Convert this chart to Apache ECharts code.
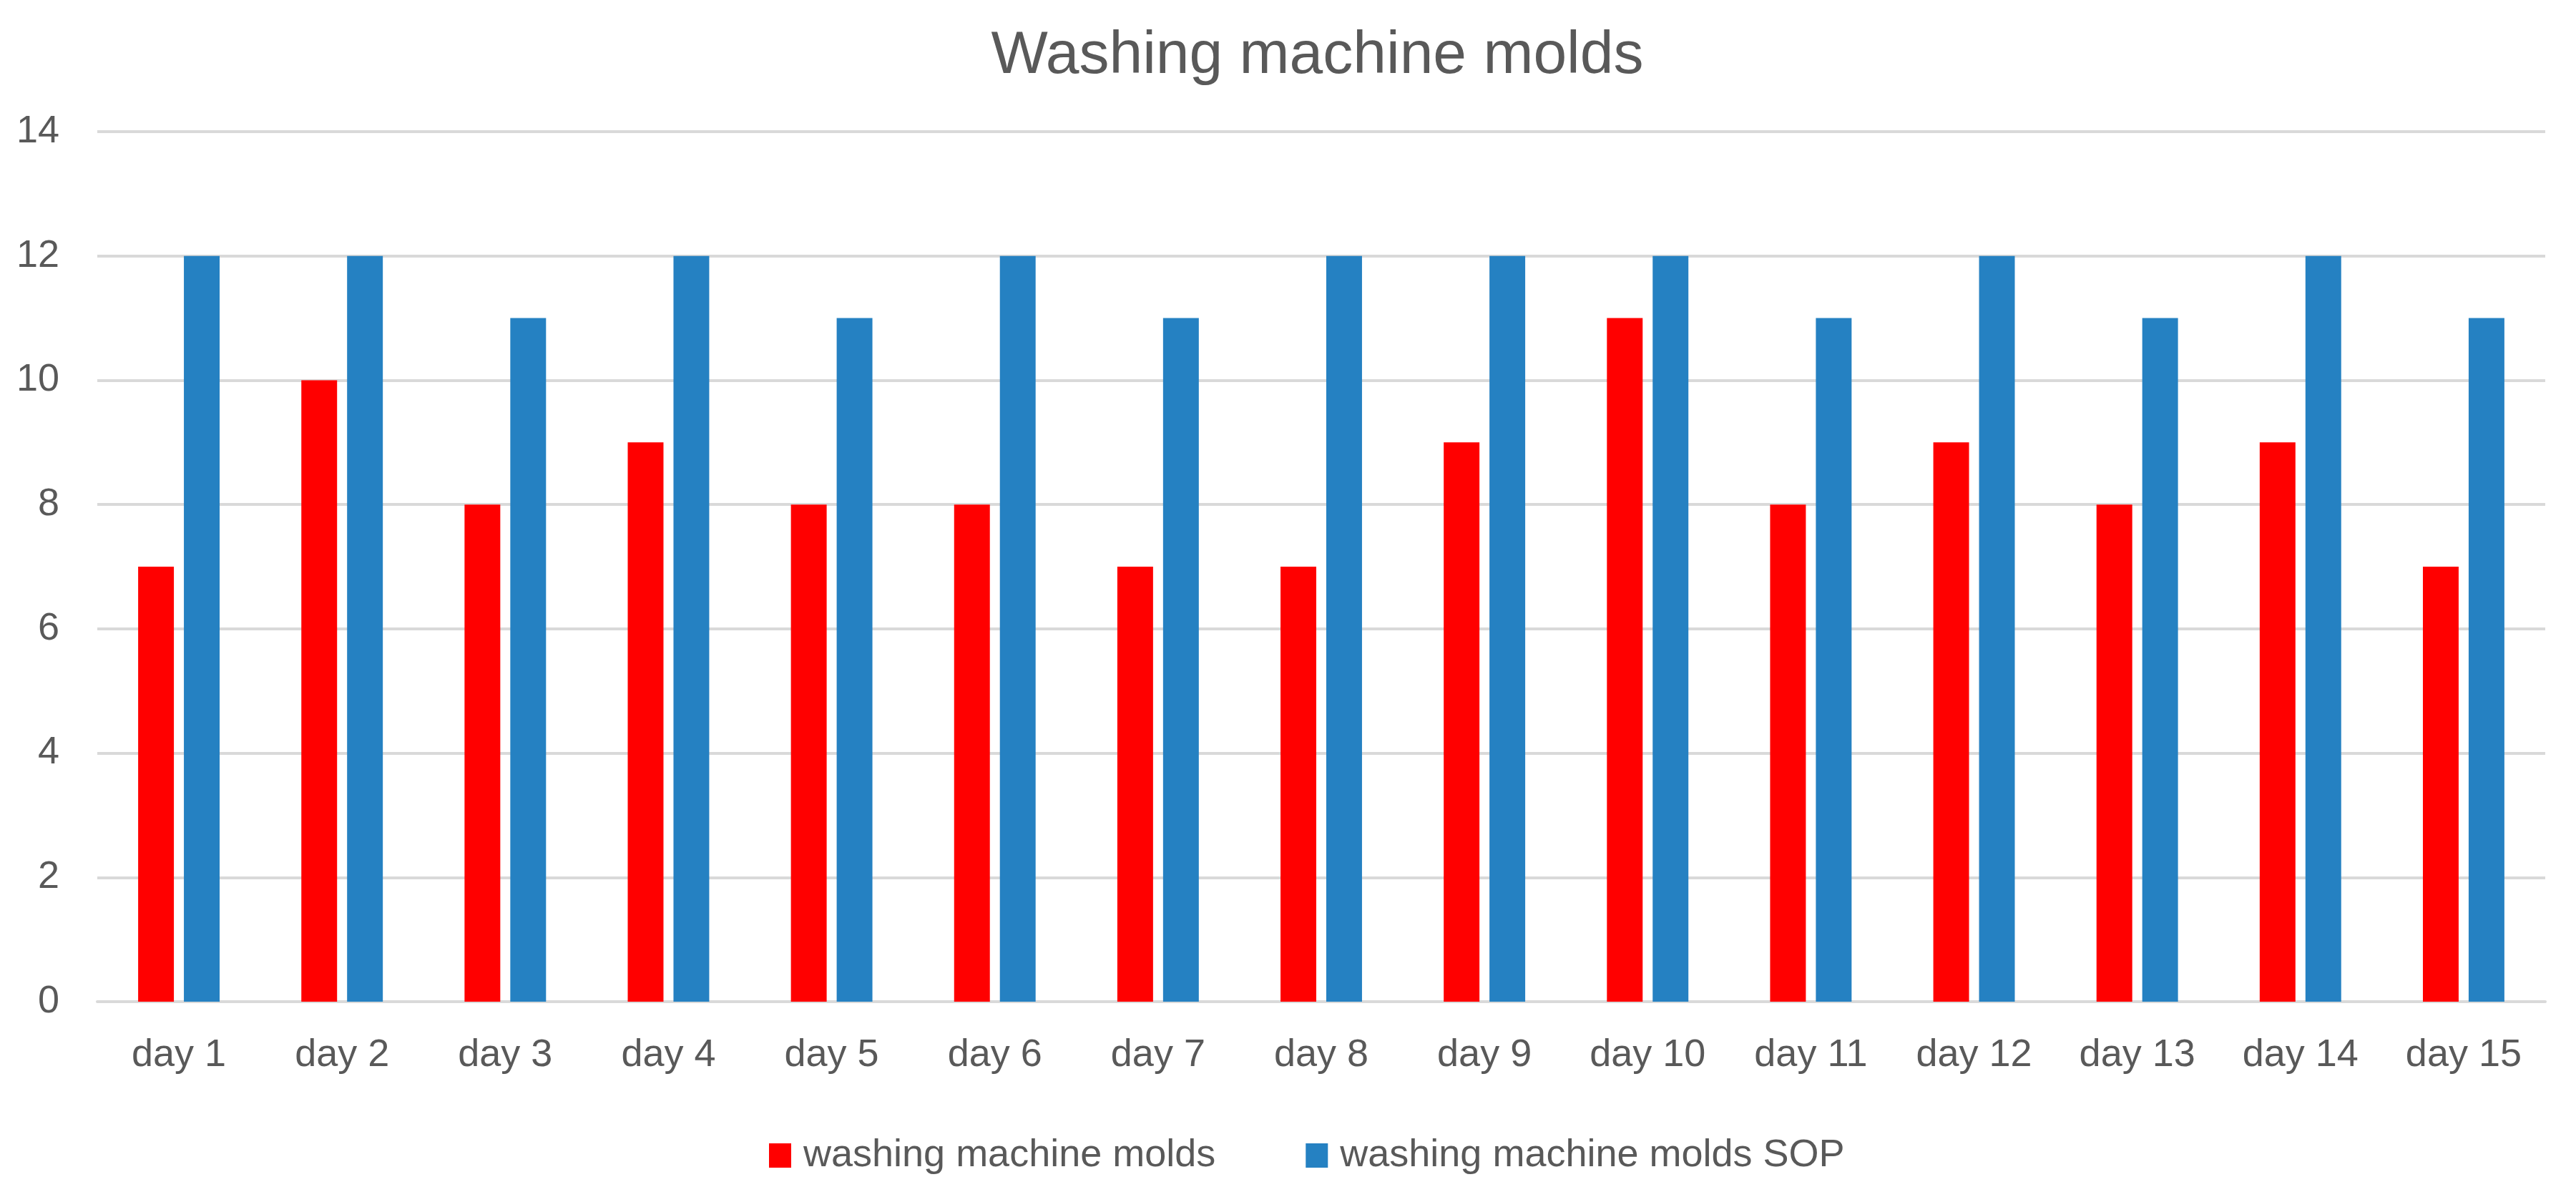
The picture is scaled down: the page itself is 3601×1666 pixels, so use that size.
<!DOCTYPE html>
<html>
<head>
<meta charset="utf-8">
<script src="https://cdn.jsdelivr.net/npm/echarts@6/dist/echarts.min.js"></script>
<style>html,body{margin:0;padding:0;background:#fff;}#c{width:3601px;height:1666px;}</style>
</head>
<body>
<div id="c"></div>
<script>
const categories = ['day 1','day 2','day 3','day 4','day 5','day 6','day 7','day 8','day 9','day 10','day 11','day 12','day 13','day 14','day 15'];
const moldsValues = [7,10,8,9,8,8,7,7,9,11,8,9,8,9,7];
const sopValues = [12,12,11,12,11,12,11,12,12,12,11,12,11,12,11];
const seriesNames = ['washing machine molds','washing machine molds SOP'];
const yTicks = {min:0, max:14, interval:2};

const chart = echarts.init(document.getElementById('c'));
const font = 'Liberation Sans, Arial, sans-serif';
chart.setOption({
  animation:false,
  backgroundColor:'#ffffff',
  title:{
    text:'Washing machine molds',
    left:'51%', textAlign:'center', top:32,
    textStyle:{fontFamily:font, fontSize:84, fontWeight:'normal', color:'#595959'}
  },
  legend:{
    data:seriesNames,
    left:1070, top:1583,
    itemWidth:31, itemHeight:34, itemGap:126,
    icon:'rect',
    textStyle:{fontFamily:font, fontSize:54, color:'#595959', padding:[0,0,0,12]}
  },
  grid:{left:136, right:43, top:184, bottom:266, containLabel:false},
  xAxis:{
    type:'category', data:categories,
    axisLine:{show:true, lineStyle:{color:'#D9D9D9', width:4}},
    axisTick:{show:false},
    axisLabel:{fontFamily:font, fontSize:54, color:'#595959', margin:48}
  },
  yAxis:{
    type:'value', min:yTicks.min, max:yTicks.max, interval:yTicks.interval,
    axisLine:{show:false}, axisTick:{show:false},
    axisLabel:{fontFamily:font, fontSize:54, color:'#595959', margin:53},
    splitLine:{lineStyle:{color:'#D9D9D9', width:4}}
  },
  series:[
    {name:seriesNames[0], type:'bar', data:moldsValues, barWidth:'21.9%', barGap:'28%', itemStyle:{color:'#FF0000'}},
    {name:seriesNames[1], type:'bar', data:sopValues, barWidth:'21.9%', barGap:'28%', itemStyle:{color:'#2581C2'}}
  ]
});
</script>
</body>
</html>
